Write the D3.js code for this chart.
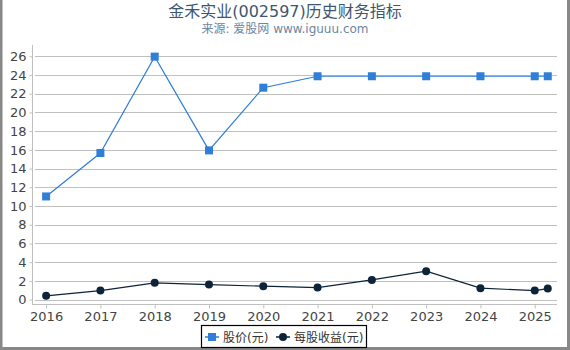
<!DOCTYPE html>
<html>
<head>
<meta charset="utf-8">
<script src="https://cdn.jsdelivr.net/npm/d3@7"></script>
<style>
body { margin: 0; background: #fff; }
svg { display: block; font-family: "DejaVu Sans", "Noto Sans CJK SC", sans-serif; }
</style>
</head>
<body>
<svg></svg>
<script>
let width = 570
let height = 350

// data
let years = [2016, 2017, 2018, 2019, 2020, 2021, 2022, 2023, 2024, 2025, 2025.24]
let price = [11.02, 15.66, 25.96, 15.94, 22.64, 23.86, 23.86, 23.86, 23.86, 23.86, 23.86]
let eps = [0.4, 0.96, 1.79, 1.6, 1.43, 1.28, 2.1, 3.04, 1.22, 0.96, 1.18]
let yTicks = d3.range(0, 27, 2)
let xTicks = [2016, 2017, 2018, 2019, 2020, 2021, 2022, 2023, 2024, 2025]
let seriesNames = ['股价(元)', '每股收益(元)']
let colors = ['#2f7ed8', '#0d233a']

let svg = d3.select('svg')
    .attr('width', width)
    .attr('height', height)

let plotLeft = 32, plotRight = 557, plotTop = 45, plotBottom = 304

let x = d3.scaleLinear().domain([2015.74, 2025.41]).range([plotLeft, plotRight])
let y = d3.scaleLinear().domain([-0.47, 27.2]).range([plotBottom, plotTop])

// frame
svg.append('rect').attr('width', width).attr('height', height).attr('fill', '#fff')
svg.append('path')
    .attr('d', `M1,0 V${height - 1.5} H${width - 1.5} V0`)
    .attr('fill', 'none')
    .attr('stroke', '#888')
    .attr('stroke-width', 3)

// titles
svg.append('text')
    .attr('x', 285).attr('y', 17)
    .attr('text-anchor', 'middle')
    .attr('font-size', 16)
    .attr('fill', '#3e576f')
    .text('金禾实业(002597)历史财务指标')
svg.append('text')
    .attr('x', 285).attr('y', 33)
    .attr('text-anchor', 'middle')
    .attr('font-size', 12)
    .attr('fill', '#6d869f')
    .text('来源: 爱股网 www.iguuu.com')

// grid
svg.append('g').selectAll('line')
    .data(yTicks).enter()
    .append('line')
    .attr('x1', plotLeft + 3).attr('x2', plotRight)
    .attr('y1', d => Math.round(y(d)) + 0.5)
    .attr('y2', d => Math.round(y(d)) + 0.5)
    .attr('stroke', '#c0c0c0')

// y axis
let yAxis = svg.append('g')
    .attr('transform', `translate(${plotLeft + 0.5},0)`)
    .call(d3.axisLeft(y).tickValues(yTicks).tickSize(3).tickPadding(3))
yAxis.select('.domain').attr('d', `M0,${plotTop}V${plotBottom}`).attr('stroke', '#c0c0c0')
yAxis.selectAll('.tick line').attr('stroke', '#c0c0c0')
yAxis.selectAll('.tick text')
    .attr('font-size', 13)
    .attr('fill', '#444')
    .attr('font-family', '"DejaVu Sans", sans-serif')

// x axis
let xAxis = svg.append('g')
    .attr('transform', `translate(0,${plotBottom + 0.5})`)
    .call(d3.axisBottom(x).tickValues(xTicks).tickFormat(d3.format('d')).tickSize(4).tickPadding(3))
xAxis.select('.domain').attr('d', `M${plotLeft},0H${plotRight}`).attr('stroke', '#c0c0c0')
xAxis.selectAll('.tick line').attr('stroke', '#c0c0c0')
xAxis.selectAll('.tick text')
    .attr('font-size', 13)
    .attr('fill', '#444')
    .attr('font-family', '"DejaVu Sans", sans-serif')

// lines
let line = d3.line().x((d, i) => x(years[i])).y(d => y(d))

svg.append('path')
    .datum(eps)
    .attr('d', line)
    .attr('fill', 'none')
    .attr('stroke', colors[1])
    .attr('stroke-width', 1.2)
svg.append('g').selectAll('circle')
    .data(eps).enter()
    .append('circle')
    .attr('cx', (d, i) => x(years[i]))
    .attr('cy', d => y(d))
    .attr('r', 4)
    .attr('fill', colors[1])

svg.append('path')
    .datum(price)
    .attr('d', line)
    .attr('fill', 'none')
    .attr('stroke', colors[0])
    .attr('stroke-width', 1.2)
svg.append('g').selectAll('rect')
    .data(price).enter()
    .append('rect')
    .attr('x', (d, i) => x(years[i]) - 4)
    .attr('y', d => y(d) - 4)
    .attr('width', 8)
    .attr('height', 8)
    .attr('fill', colors[0])

// legend
let legend = svg.append('g')
legend.append('rect')
    .attr('x', 201.5).attr('y', 325.5)
    .attr('width', 165).attr('height', 22)
    .attr('fill', '#fff')
    .attr('stroke', '#000')
    .attr('stroke-width', 1.2)
let legendX = [205, 276]
seriesNames.forEach((name, i) => {
    let g = legend.append('g').attr('transform', `translate(${legendX[i]},337)`)
    g.append('line').attr('x1', 0).attr('x2', 14).attr('stroke', colors[i]).attr('stroke-width', 1.5)
    if (i === 0) {
        g.append('rect').attr('x', 3).attr('y', -4).attr('width', 8).attr('height', 8).attr('fill', colors[i])
    } else {
        g.append('circle').attr('cx', 7).attr('r', 4).attr('fill', colors[i])
    }
    g.append('text')
        .attr('x', 18).attr('y', 4.5)
        .attr('font-size', 12)
        .attr('fill', '#333')
        .text(name)
})
</script>
</body>
</html>
